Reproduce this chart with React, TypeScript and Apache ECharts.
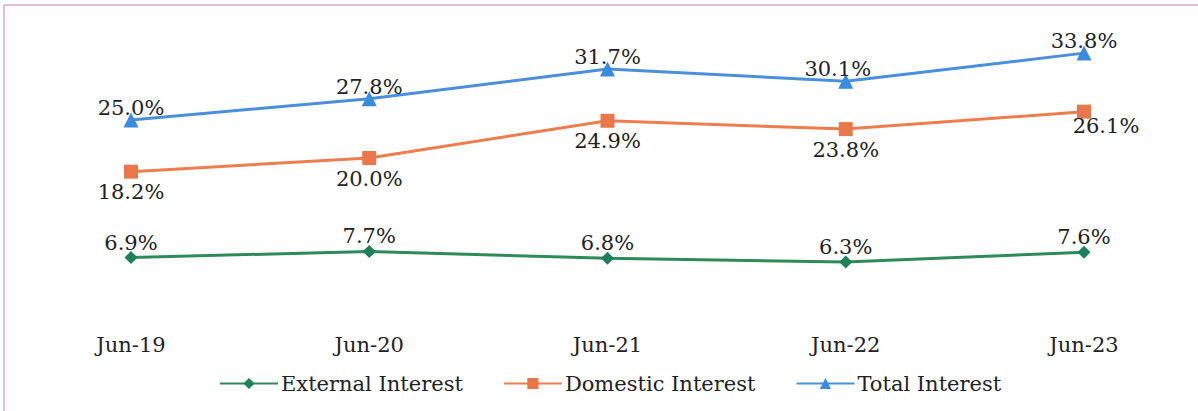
import React, { useEffect, useRef } from "react";
import * as echarts from "echarts";

const categories = ["Jun-19", "Jun-20", "Jun-21", "Jun-22", "Jun-23"];
const externalInterest = [6.9, 7.7, 6.8, 6.3, 7.6];
const domesticInterest = [18.2, 20.0, 24.9, 23.8, 26.1];
const totalInterest = [25.0, 27.8, 31.7, 30.1, 33.8];

const FONT = "DejaVu Serif";
const TEXT = "#222222";

export default function App() {
  const ref = useRef<HTMLDivElement>(null);
  useEffect(() => {
    if (!ref.current) return;
    const chart = echarts.init(ref.current, null, { renderer: "svg" });
    const labelStyle = {
      show: true,
      fontFamily: FONT,
      fontSize: 21,
      color: TEXT,
      formatter: (p: any) => p.value.toFixed(1) + "%",
    };
    chart.setOption({
      animation: false,
      backgroundColor: "#ffffff",
      grid: { left: 131, right: 114, top: 6, bottom: 101 },
      xAxis: {
        type: "category",
        data: categories,
        boundaryGap: false,
        axisLine: { show: false },
        axisTick: { show: false },
        splitLine: { show: false },
        axisLabel: { fontFamily: FONT, fontSize: 21, color: TEXT, margin: 24 },
      },
      yAxis: {
        type: "value",
        min: 0,
        max: 40,
        show: false,
        splitLine: { show: false },
      },
      legend: {
        left: 214,
        top: 368,
        itemWidth: 58,
        itemHeight: 14,
        itemGap: 40,
        textStyle: { fontFamily: FONT, fontSize: 21, color: TEXT, padding: [0, 0, 0, -2] },
        data: ["External Interest", "Domestic Interest", "Total Interest"],
      },
      graphic: [
        { type: "line", shape: { x1: 4, y1: 5, x2: 4, y2: 411 }, style: { stroke: "#d9a7c7", lineWidth: 1.5 } },
        { type: "line", shape: { x1: 4, y1: 5, x2: 1198, y2: 5 }, style: { stroke: "#d9a7c7", lineWidth: 1.5 } },
      ],
      series: [
        {
          name: "External Interest",
          type: "line",
          data: externalInterest,
          symbol: "diamond",
          symbolSize: 13,
          lineStyle: { color: "#2e8b57", width: 3 },
          itemStyle: { color: "#1f7f5a" },
          label: { ...labelStyle, position: "top", distance: -2 },
        },
        {
          name: "Domestic Interest",
          type: "line",
          data: domesticInterest.map((v, i) =>
            i === 4 ? { value: v, label: { offset: [22, -6] } } : v
          ),
          symbol: "rect",
          symbolSize: 14,
          lineStyle: { color: "#ee7d4e", width: 3 },
          itemStyle: { color: "#e9774b" },
          label: { ...labelStyle, position: "bottom", distance: 3 },
        },
        {
          name: "Total Interest",
          type: "line",
          data: totalInterest.map((v, i) =>
            i === 3 ? { value: v, label: { offset: [-8, 0] } } : v
          ),
          symbol: "triangle",
          symbolSize: 15,
          lineStyle: { color: "#4a8fdc", width: 3 },
          itemStyle: { color: "#3a8ade" },
          label: { ...labelStyle, position: "top", distance: -6 },
        },
      ],
    });
    return () => chart.dispose();
  }, []);
  return (
    <div
      ref={ref}
      style={{ position: "fixed", left: 0, top: 0, width: 1198, height: 411 }}
    />
  );
}
